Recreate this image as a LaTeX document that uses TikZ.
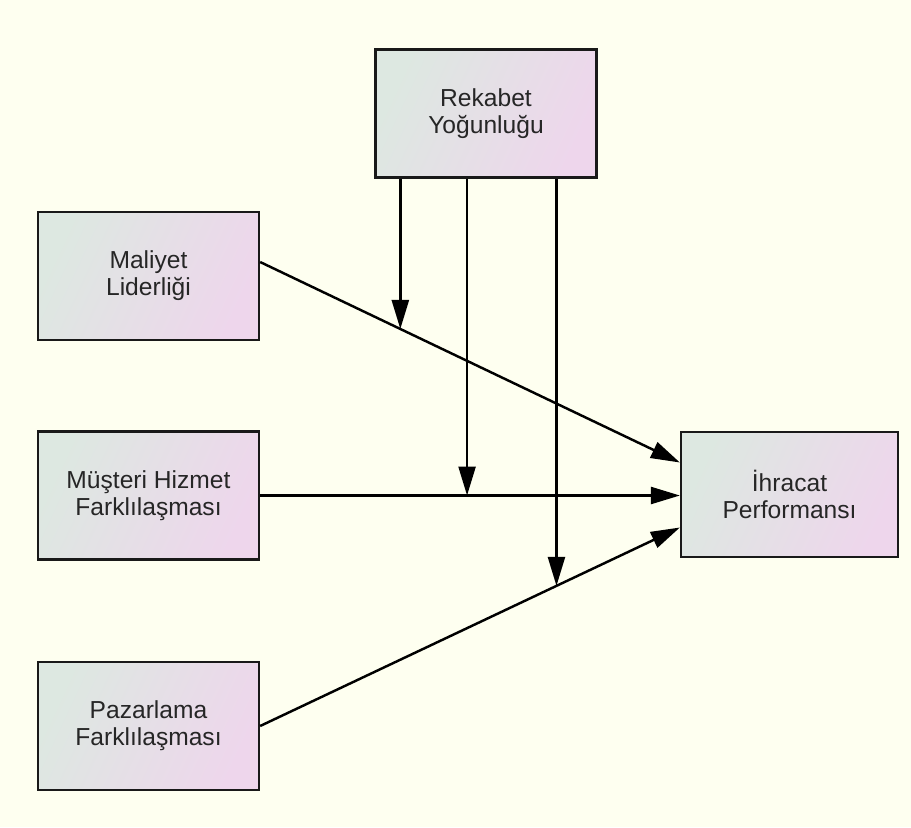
\documentclass[tikz,border=0pt]{standalone}
\usepackage{fontspec}
\setmainfont{Liberation Sans}
\usetikzlibrary{arrows.meta, positioning}
\definecolor{bgcol}{RGB}{254,255,240}
\definecolor{boxleft}{RGB}{221,232,225}
\definecolor{boxright}{RGB}{238,214,236}

\begin{document}
\begin{tikzpicture}[
  factor/.style={draw=black!90, line width=1.3pt, left color=boxleft, right color=boxright,
    shading angle=65, minimum width=4.42cm, minimum height=2.56cm, align=center,
    font=\fontsize{14}{15.5}\selectfont, text=black!85},
  link/.style={line width=1.4pt, -{Triangle[length=0.58cm, width=0.34cm]}}
]
  % Background, also fixes the margins
  \fill[bgcol] (0,0) rectangle (18.22,-16.54);

  % Draw the constructs
  \node[factor] (rek) at (9.72,-2.27) {Rekabet\\Yoğunluğu};
  \node[factor] (mal) at (2.97,-5.52) {Maliyet\\Liderliği};
  \node[factor] (mus) at (2.97,-9.91) {Müşteri Hizmet\\Farklılaşması};
  \node[factor] (paz) at (2.97,-14.52) {Pazarlama\\Farklılaşması};
  \node[factor, minimum width=4.34cm, minimum height=2.5cm] (ihr) at (15.79,-9.89) {İhracat\\Performansı};

  % Draw direct effects, marking where the moderator hits them
  \draw[link] ([yshift=0.28cm]mal.east) -- coordinate[pos=0.334] (modA) ([yshift=0.64cm]ihr.west);
  \draw[link] (mus.east) -- coordinate[pos=0.493] (modB) (mus.east -| ihr.west);
  \draw[link] (paz.east) -- coordinate[pos=0.706] (modC) ([yshift=-0.66cm]ihr.west);

  % Draw moderating arrows from Rekabet down to the paths
  \draw[link] (rek.south -| modA) -- (modA);
  \draw[link] (rek.south -| modB) -- (modB);
  \draw[link] (rek.south -| modC) -- (modC);

\end{tikzpicture}
\end{document}
